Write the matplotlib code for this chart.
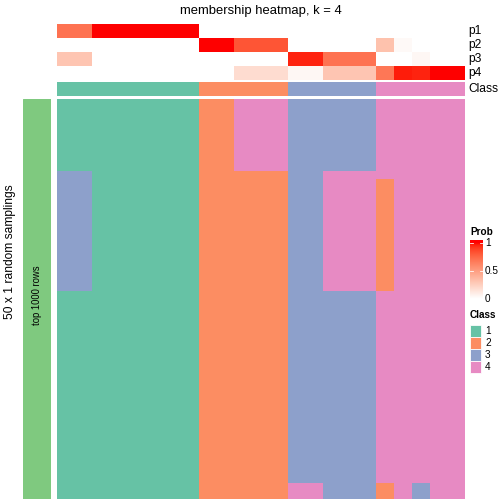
import numpy as np
import matplotlib
matplotlib.use("Agg")
import matplotlib.pyplot as plt
from matplotlib.colors import ListedColormap
from matplotlib.patches import Rectangle

plt.rcParams['font.family'] = ['Liberation Sans', 'DejaVu Sans']

# column groups (left to right), width in columns
group_widths = [2, 6, 2, 3, 2, 3, 1, 1, 1, 2]
group_class = [1, 1, 2, 2, 3, 3, 4, 4, 4, 4]
p1 = [0.7, 1.0, 0.0, 0.0, 0.0, 0.0, 0.0, 0.0, 0.0, 0.0]
p2 = [0.0, 0.0, 1.0, 0.82, 0.0, 0.0, 0.32, 0.03, 0.0, 0.0]
p3 = [0.3, 0.0, 0.0, 0.0, 0.96, 0.7, 0.0, 0.0, 0.04, 0.0]
p4 = [0.0, 0.0, 0.0, 0.18, 0.04, 0.3, 0.68, 0.97, 0.96, 1.0]
# class of each sampling (row) per group, as (class, n rows) runs top to bottom
group_runs = [
    [(1, 9), (3, 15), (1, 26)],
    [(1, 50)],
    [(2, 50)],
    [(4, 9), (2, 41)],
    [(3, 48), (4, 2)],
    [(3, 9), (4, 15), (3, 26)],
    [(4, 10), (2, 14), (4, 24), (2, 2)],
    [(4, 50)],
    [(4, 48), (3, 2)],
    [(4, 50)],
]
class_labels = ["1", "2", "3", "4"]
class_colors = ["#66C2A5", "#FC8D62", "#8DA0CB", "#E78AC3"]
prob_names = ["p1", "p2", "p3", "p4"]

M_XYZ = np.array([[0.4124564, 0.3575761, 0.1804375],
                  [0.2126729, 0.7151522, 0.0721750],
                  [0.0193339, 0.1191920, 0.9503041]])
WHITE = M_XYZ.sum(axis=1)


# white -> red colour ramp interpolated in LAB space (like colorRamp2)
def srgb_to_lab(rgb):
    rgb = np.asarray(rgb, float)
    lin = np.where(rgb <= 0.04045, rgb / 12.92, ((rgb + 0.055) / 1.055) ** 2.4)
    xyz = M_XYZ @ lin / WHITE
    f = np.where(xyz > 0.008856, np.cbrt(xyz), 7.787 * xyz + 16 / 116)
    return np.array([116 * f[1] - 16, 500 * (f[0] - f[1]), 200 * (f[1] - f[2])])


def lab_to_srgb(lab):
    L, a, b = lab
    fy = (L + 16) / 116
    f = np.array([fy + a / 500, fy, fy - b / 200])
    xyz = np.where(f ** 3 > 0.008856, f ** 3, (f - 16 / 116) / 7.787) * WHITE
    lin = np.linalg.solve(M_XYZ, xyz)
    lin = np.clip(lin, 0, 1)
    rgb = np.where(lin <= 0.0031308, 12.92 * lin, 1.055 * lin ** (1 / 2.4) - 0.055)
    return np.clip(rgb, 0, 1)


lab_w = srgb_to_lab([1, 1, 1])
lab_r = srgb_to_lab([1, 0, 0])
ramp = [lab_to_srgb(lab_w + (lab_r - lab_w) * t) for t in np.linspace(0, 1, 256)]
ramp[0] = np.array([1.0, 1.0, 1.0])
prob_cmap = ListedColormap(ramp)
class_cmap = ListedColormap(class_colors)

W = H = 504
fig = plt.figure(figsize=(7, 7), dpi=72)


def px_axes(x0, y0, x1, y1):
    ax = fig.add_axes([x0 / W, 1 - y1 / H, (x1 - x0) / W, (y1 - y0) / H])
    ax.set_axis_off()
    return ax


widths = np.array(group_widths)
prob = np.vstack([np.repeat(p, widths) for p in (p1, p2, p3, p4)])
cls_row = np.repeat(group_class, widths)[None, :]
mat = np.column_stack([
    np.concatenate([[c] * n for c, n in runs])
    for runs, w in zip(group_runs, group_widths) for _ in range(w)
])

hx0, hx1 = 57, 465

# probability annotation
ax = px_axes(hx0, 24, hx1, 80)
ax.imshow(prob, cmap=prob_cmap, vmin=0, vmax=1, aspect='auto', interpolation='nearest')
# class annotation
ax = px_axes(hx0, 82, hx1, 96)
ax.imshow(cls_row, cmap=class_cmap, vmin=0.5, vmax=4.5, aspect='auto', interpolation='nearest')
# main heatmap
ax = px_axes(hx0, 99, hx1, 499)
ax.imshow(mat, cmap=class_cmap, vmin=0.5, vmax=4.5, aspect='auto', interpolation='nearest')
# left row annotation
ax = px_axes(23, 99, 51, 499)
ax.add_patch(Rectangle((0, 0), 1, 1, color="#7FC97F"))
ax.text(0.5, 0.51, "top 1000 rows", rotation=90, ha='center', va='center', fontsize=9.5)

# overlay for the texts and legends
ov = px_axes(0, 0, W, H)
ov.set_xlim(0, W)
ov.set_ylim(H, 0)
ov.text((hx0 + hx1) / 2, 11, "membership heatmap, k = 4", ha='center', va='center', fontsize=13)
for i, name in enumerate(prob_names):
    ov.text(468, 31 + 14 * i, name, ha='left', va='center', fontsize=12)
ov.text(468, 89, "Class", ha='left', va='center', fontsize=12)
ov.text(10, 252, "50 x 1 random samplings", rotation=90, ha='center', va='center', fontsize=12)

# Prob colour bar
ov.text(470, 232, "Prob", ha='left', va='center', fontsize=10, fontweight='bold')
cb = px_axes(470, 240, 483, 300)
lo, hi = -1.3 / 56, 1 + 2.7 / 56
cb.imshow(np.linspace(lo, hi, 200)[:, None], cmap=prob_cmap, vmin=0, vmax=1, aspect='auto',
          origin='lower', extent=(0, 1, lo, hi))
cb.set_xlim(0, 1)
cb.set_ylim(lo, hi)
for v, lab in [(0, "0"), (0.5, "0.5"), (1, "1")]:
    cb.plot([0, 0.22], [v, v], color='white', lw=0.8)
    cb.plot([0.78, 1], [v, v], color='white', lw=0.8)
    ov.text(485, 298.7 - 56 * v, lab, ha='left', va='center', fontsize=10)

# Class legend
ov.text(470, 315, "Class", ha='left', va='center', fontsize=10, fontweight='bold')
for i, (lab, col) in enumerate(zip(class_labels, class_colors)):
    y = 325 + 12 * i
    ov.add_patch(Rectangle((470, y), 11, 12, facecolor=col, edgecolor='white', lw=0.8))
    ov.text(485, y + 6, lab, ha='left', va='center', fontsize=10)

fig.savefig("out.png", dpi=72)
